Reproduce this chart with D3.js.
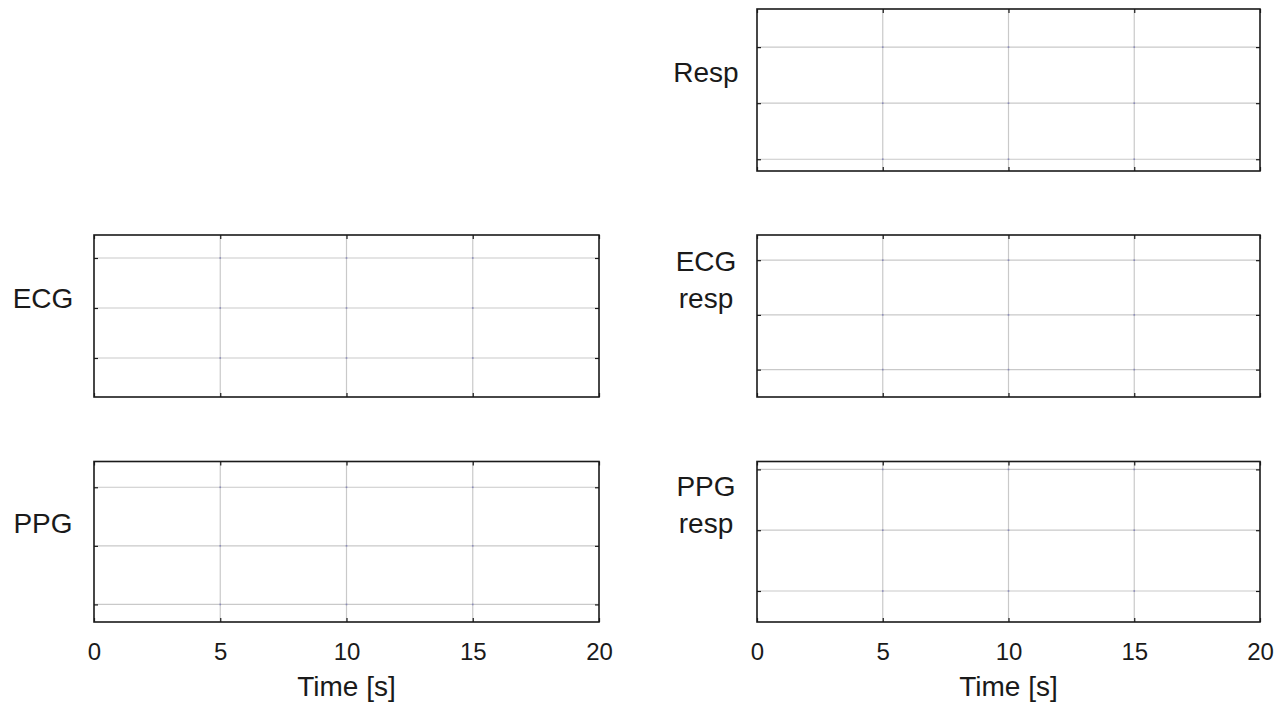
<!DOCTYPE html>
<html>
<head>
<meta charset="utf-8">
<script src="https://cdn.jsdelivr.net/npm/d3@7"></script>
<style>
  html, body { margin: 0; padding: 0; background: #fff; }
  svg { display: block; font-family: "Liberation Sans", Arial, sans-serif; }
</style>
</head>
<body>
<svg id="chart" width="1279" height="704"></svg>
<script>
// Shared time axis
const timeDomain = [0, 20];
const timeTicks = [0, 5, 10, 15, 20];
const timeLabel = "Time [s]";

// Signal panels (label lines, y extent, y grid ticks)
const panelLabels = [["Resp"], ["ECG"], ["ECG", "resp"], ["PPG"], ["PPG", "resp"]];
const panelYDomains = [[-1.21, 1.68], [-1.78, 1.46], [-1.50, 1.46], [-1.30, 1.44], [-1.51, 1.13]];
const yTickValues = [-1, 0, 1];

// Layout: column / row of each panel
const panelCol = [1, 0, 1, 0, 1];
const panelRow = [0, 1, 1, 2, 2];
const colX = [[94, 599], [757, 1260]];
const rowY = [[9, 171], [235, 397], [461.5, 622]];
const bottomRow = 2;

const svg = d3.select("#chart");
svg.append("rect").attr("width", 1279).attr("height", 704).attr("fill", "#fff");

const gridColor = "#c9c9c9";
const inkColor = "#1a1a1a";

panelLabels.forEach((lines, i) => {
  const [x0, x1] = colX[panelCol[i]];
  const [y0, y1] = rowY[panelRow[i]];
  const w = x1 - x0, h = y1 - y0;

  const x = d3.scaleLinear().domain(timeDomain).range([0, w]);
  const y = d3.scaleLinear().domain(panelYDomains[i]).range([h, 0]);

  const g = svg.append("g").attr("transform", `translate(${x0},${y0})`);

  // grid
  const grid = g.append("g");
  grid.selectAll("line.vx").data(timeTicks.slice(1, -1)).join("line")
    .attr("x1", d => x(d)).attr("x2", d => x(d))
    .attr("y1", 0).attr("y2", h)
    .attr("stroke", gridColor).attr("stroke-width", 1.2);
  grid.selectAll("line.hy").data(yTickValues).join("line")
    .attr("x1", 0).attr("x2", w)
    .attr("y1", d => y(d)).attr("y2", d => y(d))
    .attr("stroke", gridColor).attr("stroke-width", 1.2);
  // grid crossings
  const crossings = d3.cross(timeTicks.slice(1, -1), yTickValues);
  grid.selectAll("rect.dot").data(crossings).join("rect")
    .attr("x", d => x(d[0]) - 0.8).attr("y", d => y(d[1]) - 0.8)
    .attr("width", 1.6).attr("height", 1.6)
    .attr("fill", "#8a8ab8");

  const tick = 4;
  const styleAxis = sel => {
    sel.select(".domain").remove();
    sel.selectAll(".tick line").attr("stroke", inkColor).attr("stroke-width", 1.2);
  };

  // bottom axis
  const bottom = g.append("g").attr("transform", `translate(0,${h})`)
    .call(d3.axisBottom(x).tickValues(timeTicks).tickSizeInner(-tick).tickSizeOuter(0)
      .tickPadding(38).tickFormat(panelRow[i] === bottomRow ? d3.format("d") : ""))
    .call(styleAxis);
  bottom.selectAll(".tick text")
    .attr("dy", 0)
    .attr("fill", inkColor)
    .attr("font-size", 24)
    .attr("font-family", '"Liberation Sans", Arial, sans-serif');

  // top axis
  g.append("g")
    .call(d3.axisTop(x).tickValues(timeTicks).tickSizeInner(-tick).tickSizeOuter(0).tickFormat(""))
    .call(styleAxis);
  // left / right axes
  g.append("g")
    .call(d3.axisLeft(y).tickValues(yTickValues).tickSizeInner(-tick).tickSizeOuter(0).tickFormat(""))
    .call(styleAxis);
  g.append("g").attr("transform", `translate(${w},0)`)
    .call(d3.axisRight(y).tickValues(yTickValues).tickSizeInner(-tick).tickSizeOuter(0).tickFormat(""))
    .call(styleAxis);

  // frame
  g.append("rect").attr("width", w).attr("height", h)
    .attr("fill", "none").attr("stroke", inkColor).attr("stroke-width", 1.6);

  // y label (horizontal, stacked lines)
  const cy = h / 2;
  const lab = g.append("text")
    .attr("text-anchor", "middle")
    .attr("font-size", 28)
    .attr("fill", inkColor);
  lines.forEach((t, k) => {
    lab.append("tspan")
      .attr("x", -51)
      .attr("y", cy - 8.5 - (lines.length - 1 - k) * 37)
      .text(t);
  });

  // x label on bottom row
  if (panelRow[i] === bottomRow) {
    g.append("text")
      .attr("x", w / 2).attr("y", h + 74)
      .attr("text-anchor", "middle")
      .attr("font-size", 28)
      .attr("fill", inkColor)
      .text(timeLabel);
  }
});
</script>
</body>
</html>
